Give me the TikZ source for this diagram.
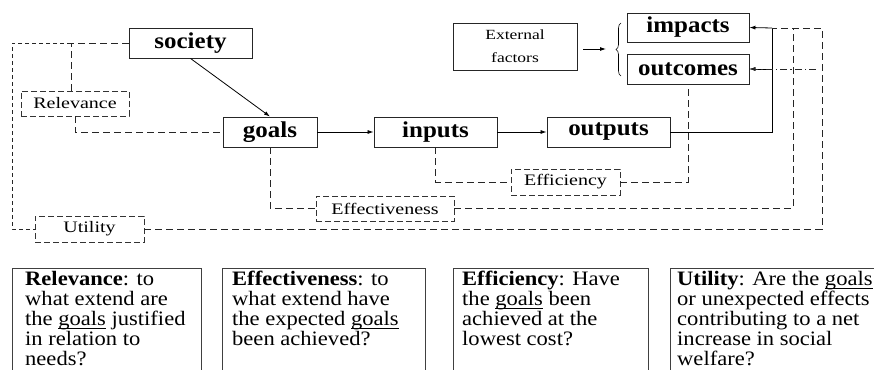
\documentclass[tikz,border=0pt]{standalone}
\usepackage{fontspec}
\setmainfont[FakeStretch=1.1]{Liberation Serif}
\newfontfamily\widefont[FakeStretch=1.25]{Liberation Serif}
\usetikzlibrary{arrows.meta,decorations.pathreplacing}
\newcommand\myul[1]{\setbox0=\hbox{#1}\rlap{\raisebox{-3.5pt}{\rule{\wd0}{0.7pt}}}\box0\relax}
\begin{document}
\begin{tikzpicture}[x=1pt,y=-1pt,
  box/.style={draw=black!85,line width=0.9pt,inner sep=0pt,font=\fontsize{22.7}{25}\selectfont\bfseries},
  dbox/.style={draw=black!80,line width=0.8pt,dash pattern=on 6pt off 3pt,inner sep=0pt,font=\widefont\fontsize{16}{20}\selectfont},
  arr/.style={-{Latex[length=6pt,width=4pt]}},
  ln/.style={draw=black,line width=0.8pt},
  dl/.style={draw=black!85,line width=0.8pt,dash pattern=on 7pt off 4pt},
  ds/.style={draw=black!85,line width=0.8pt,dash pattern=on 4pt off 3pt},
  dd/.style={draw=black!85,line width=0.8pt,dash pattern=on 7pt off 3pt on 1.5pt off 3pt},
  btxt/.style={anchor=north west,inner sep=0pt,align=left,font=\fontsize{20.5}{20}\selectfont},
  bbox/.style={draw=black!75,line width=0.9pt}
]
\useasboundingbox (0,0) rectangle (874,369);
\clip (0,0) rectangle (874,369);

% main nodes
\node[box,minimum width=123pt,minimum height=30pt] (society) at (190.5,43) {society};
\node[box,minimum width=94pt,minimum height=30pt] (goals) at (270,132) {goals};
\node[box,minimum width=123pt,minimum height=30pt] (inputs) at (435.5,132) {inputs};
\node[box,minimum width=123pt,minimum height=30pt] (outputs) at (608.5,132) {outputs};
\node[box,minimum width=122pt,minimum height=29pt] (impacts) at (688,27.5) {impacts};
\node[box,minimum width=122pt,minimum height=30pt] (outcomes) at (688,69) {outcomes};
\node[box,minimum width=124pt,minimum height=47pt,align=center,font=\widefont\fontsize{14}{23}\selectfont] (external) at (515,46.5) {External\\factors};

% dashed label nodes
\node[dbox,minimum width=108pt,minimum height=25pt] (relevance) at (75,103.5) {Relevance};
\node[dbox,minimum width=109pt,minimum height=26pt] (efficiency) at (565.5,182) {Efficiency};
\node[dbox,minimum width=138pt,minimum height=25pt] (effectiveness) at (385,208.5) {Effectiveness};
\node[dbox,minimum width=109pt,minimum height=26pt] (utility) at (89.5,229) {Utility};

% coordinates
\coordinate (r1) at (71,43);
\coordinate (ul) at (12,43);
\coordinate (jx) at (772,28);
\coordinate (ex) at (793,28);
\coordinate (ux) at (822,28);
\coordinate (ddstart) at (816,69);
\coordinate (b1) at (621,23);
\coordinate (b2) at (621,76);
\coordinate (ea) at (583,49);
\coordinate (eb) at (606,49);

% solid connectors
\draw[ln,arr] (society.south) -- (goals.north);
\draw[ln,arr] (goals.east) -- (inputs.west);
\draw[ln,arr] (inputs.east) -- (outputs.west);
\draw[ln] (outputs.east) -| (jx);
\draw[ln,arr] (jx) -- (impacts.east);
\draw[ln,arr] (outputs.east -| jx) |- (outcomes.east);
\draw[ln,arr] (ea) -- (eb);
\draw[ln,line width=0.6pt,decorate,decoration={brace,amplitude=5pt}] (b2) -- (b1);

% relevance
\draw[dl] (society.west) -- (r1) -- (r1 |- relevance.north);
\draw[dl] (relevance.south) |- (goals.west);
% utility loop
\draw[ds] (r1) -- (ul) |- (utility.west);
\draw[dl] (utility.east) -| (ux) -- (jx);
% effectiveness
\draw[dl] (goals.south) |- (effectiveness.west);
\draw[dl] (effectiveness.east) -| (ex);
% efficiency
\draw[dl] (inputs.south) |- (efficiency.west);
\draw[dl] (efficiency.east) -| (outcomes.south);
% dash-dot to outcomes
\draw[dd,arr] (ddstart) -- (outcomes.east);

% bottom boxes
\draw[bbox] (12.5,390) -- (12.5,268.5) -- (201,268.5) -- (201,390);
\draw[bbox] (222,390) -- (222,268.5) -- (425,268.5) -- (425,390);
\draw[bbox] (453,390) -- (453,268.5) -- (648,268.5) -- (648,390);
\draw[bbox] (670,390) -- (670,268.5) -- (900,268.5) -- (900,390);

\node[btxt] (reltxt) at (25,271) {\textbf{Relevance}: to\\what extend are\\the \myul{goals} justified\\in relation to\\needs?};
\node[btxt] (efftxt) at (232,271) {\textbf{Effectiveness}: to\\what extend have\\the expected \myul{goals}\\been achieved?};
\node[btxt] (efctxt) at (462,271) {\textbf{Efficiency}: Have\\the \myul{goals} been\\achieved at the\\lowest cost?};
\node[btxt] (utltxt) at (677,271) {\textbf{Utility}: Are the \myul{goals}\\or unexpected effects\\contributing to a net\\increase in social\\welfare?};
\end{tikzpicture}
\end{document}
